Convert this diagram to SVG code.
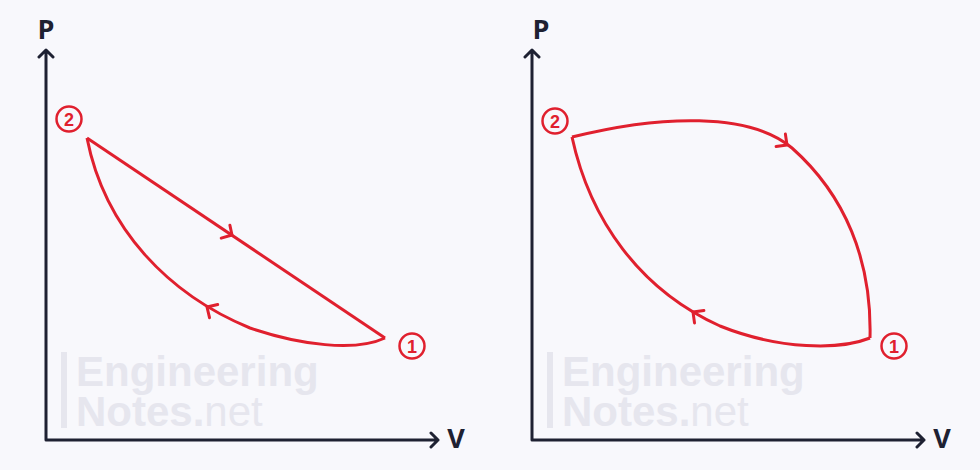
<svg xmlns="http://www.w3.org/2000/svg" width="980" height="470" viewBox="0 0 980 470">
<defs>
<style>
.axis{fill:none;stroke:#1e2132;stroke-width:3;stroke-linecap:round;stroke-linejoin:round}
.curve{fill:none;stroke:#e0202e;stroke-width:3;stroke-linejoin:round}
.chev{fill:none;stroke:#e0202e;stroke-width:3;stroke-linecap:round;stroke-linejoin:round}
.axlbl{font-family:'Open Sans','Liberation Sans',sans-serif;font-weight:bold;font-size:27px;fill:#1e2132}
.num{font-family:'Liberation Sans',sans-serif;font-weight:bold;font-size:18px;fill:#e0202e;text-anchor:middle}
.ring{fill:none;stroke:#e0202e;stroke-width:2.5}
.wm{font-family:'Liberation Sans',sans-serif;font-size:42px;fill:#e6e6ee}
</style>
</defs>
<rect width="980" height="470" fill="#f8f8fc"/>
<!-- watermarks -->
<g id="watermark-left">
<rect x="61" y="352" width="6" height="76" fill="#e6e6ee"/>
<text class="wm" x="76" y="386" font-weight="bold">Engineering</text>
<text class="wm" x="76" y="426"><tspan font-weight="bold">Notes.</tspan>net</text>
</g>
<g id="watermark-right">
<rect x="547" y="352" width="6" height="76" fill="#e6e6ee"/>
<text class="wm" x="562" y="386" font-weight="bold">Engineering</text>
<text class="wm" x="562" y="426"><tspan font-weight="bold">Notes.</tspan>net</text>
</g>
<!-- axes -->
<g id="axes-left">
<path class="axis" d="M46,440 V50 M39,57 L46,50 L53,57 M46,440 H438 M431,433 L438,440 L431,447"/>
<text class="axlbl" x="46" y="39" text-anchor="middle">P</text>
<text class="axlbl" x="456" y="448" text-anchor="middle">V</text>
</g>
<g id="axes-right">
<path class="axis" d="M532,440 V50 M525,57 L532,50 L539,57 M532,440 H924 M917,433 L924,440 L917,447"/>
<text class="axlbl" x="541" y="39" text-anchor="middle">P</text>
<text class="axlbl" x="942" y="448" text-anchor="middle">V</text>
</g>
<!-- connectors (process paths) -->
<g id="connectors">
<path class="curve" d="M87,138 L385,338"/>
<path class="curve" d="M385,338 C355,352 300,345 250,328 C170,295 105,230 87,138"/>
<path class="chev" d="M229.9,225.2 L232,235 L221.2,238.1"/>
<path class="chev" d="M217.7,304.5 L207,307 L209.5,317.7"/>
<path class="curve" d="M572,137 C660,115 750,112 792,148 C845,195 872,260 870,338"/>
<path class="curve" d="M870,338 C840,350 780,350 720,326 C640,290 590,220 572,137"/>
<path class="chev" d="M785.4,134.1 L787,145 L776.1,146.6"/>
<path class="chev" d="M703.9,310.5 L693,312 L694.5,322.9"/>
</g>
<!-- state nodes -->
<g id="state-2-left">
<circle class="ring" cx="69" cy="119" r="12.5"/>
<text class="num" x="69" y="125.5">2</text>
</g>
<g id="state-1-left">
<circle class="ring" cx="412" cy="346" r="12.5"/>
<text class="num" x="412" y="352.5">1</text>
</g>
<g id="state-2-right">
<circle class="ring" cx="555" cy="121" r="12.5"/>
<text class="num" x="555" y="127.5">2</text>
</g>
<g id="state-1-right">
<circle class="ring" cx="894" cy="346" r="12.5"/>
<text class="num" x="894" y="352.5">1</text>
</g>
</svg>
